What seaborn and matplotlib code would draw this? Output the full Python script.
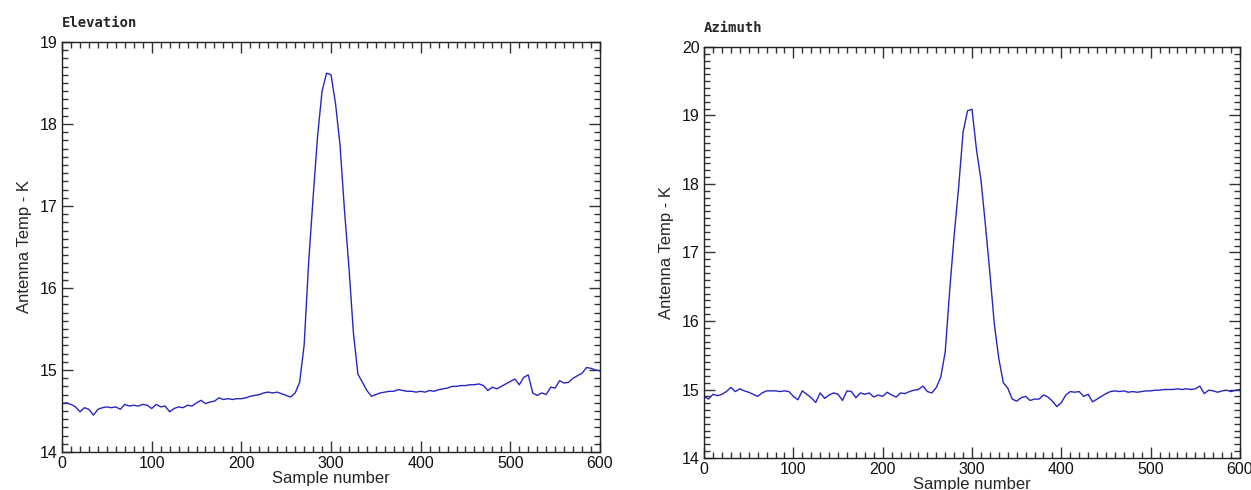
import numpy as np
import pandas as pd
import matplotlib
matplotlib.use("Agg")
import matplotlib.pyplot as plt
from matplotlib.ticker import MultipleLocator
import seaborn as sns

samples = list(range(0, 601, 5))

elevation = [
    14.59, 14.60, 14.58, 14.55, 14.49, 14.54, 14.52, 14.45, 14.52, 14.54,
    14.55, 14.54, 14.55, 14.52, 14.58, 14.56, 14.57, 14.56, 14.58, 14.57,
    14.53, 14.58, 14.55, 14.56, 14.49, 14.53, 14.55, 14.54, 14.57, 14.56,
    14.60, 14.63, 14.59, 14.61, 14.62, 14.66, 14.64, 14.65, 14.64, 14.65,
    14.65, 14.66, 14.68, 14.69, 14.70, 14.72, 14.73, 14.72, 14.73, 14.71,
    14.69, 14.67, 14.72, 14.85, 15.30, 16.30, 17.10, 17.85, 18.40, 18.62,
    18.60, 18.25, 17.75, 16.95, 16.25, 15.45, 14.95, 14.85, 14.75, 14.68,
    14.70, 14.72, 14.73, 14.74, 14.74, 14.76, 14.75, 14.74, 14.74, 14.73,
    14.74, 14.73, 14.75, 14.74, 14.76, 14.77, 14.78, 14.80, 14.80, 14.81,
    14.81, 14.82, 14.82, 14.83, 14.81, 14.75, 14.79, 14.77, 14.80, 14.83,
    14.86, 14.89, 14.82, 14.91, 14.94, 14.72, 14.69, 14.72, 14.70, 14.79,
    14.78, 14.87, 14.84, 14.85, 14.90, 14.93, 14.96, 15.03, 15.02, 15.00,
    14.99,
]

azimuth = [
    14.90, 14.86, 14.93, 14.91, 14.93, 14.97, 15.03, 14.97, 15.01, 14.98,
    14.96, 14.93, 14.90, 14.95, 14.98, 14.98, 14.98, 14.97, 14.98, 14.97,
    14.90, 14.85, 14.98, 14.93, 14.88, 14.81, 14.95, 14.87, 14.92, 14.95,
    14.93, 14.84, 14.98, 14.97, 14.88, 14.95, 14.93, 14.95, 14.89, 14.92,
    14.90, 14.96, 14.92, 14.89, 14.95, 14.94, 14.97, 14.99, 15.00, 15.05,
    14.97, 14.95, 15.03, 15.18, 15.55, 16.45, 17.25, 17.95, 18.76, 19.07,
    19.09, 18.50, 18.06, 17.40, 16.70, 15.95, 15.45, 15.10, 15.02, 14.86,
    14.83, 14.88, 14.90, 14.84, 14.86, 14.86, 14.92, 14.89, 14.83, 14.75,
    14.81, 14.92, 14.97, 14.96, 14.97, 14.90, 14.93, 14.82, 14.86, 14.90,
    14.94, 14.97, 14.98, 14.97, 14.98, 14.96, 14.97, 14.96, 14.97, 14.98,
    14.98, 14.99, 14.99, 15.00, 15.00, 15.00, 15.01, 15.00, 15.01, 15.00,
    15.01, 15.05, 14.94, 14.99, 14.98, 14.96, 14.98, 14.99, 14.97, 14.99,
    15.00,
]

titles = ["Elevation", "Azimuth"]
ylims = [(14, 19), (14, 20)]
x_label = "Sample number"
y_label = "Antenna Temp - K"

sns.set_style("ticks")
plt.rcParams["font.family"] = ["Liberation Sans", "DejaVu Sans"]

fig = plt.figure(figsize=(12.51, 4.90), dpi=100)
ax1 = fig.add_axes([0.0496, 0.0776, 0.4300, 0.8367])
ax2 = fig.add_axes([0.5628, 0.0653, 0.4284, 0.8388])

line_color = "#2626c4"
for ax, series, title, ylim in zip([ax1, ax2], [elevation, azimuth], titles, ylims):
    df = pd.DataFrame({"sample": samples, "temp": series})
    sns.lineplot(data=df, x="sample", y="temp", ax=ax, color=line_color, linewidth=1.0)
    ax.set_xlim(0, 600)
    ax.set_ylim(*ylim)
    ax.xaxis.set_major_locator(MultipleLocator(100))
    ax.xaxis.set_minor_locator(MultipleLocator(10))
    ax.yaxis.set_major_locator(MultipleLocator(1))
    ax.yaxis.set_minor_locator(MultipleLocator(0.1))
    ax.tick_params(which="both", direction="in", top=True, right=True,
                   color="#333333", labelsize=11.5, labelcolor="#111111", pad=3)
    ax.tick_params(which="major", length=8, width=1.0)
    ax.tick_params(which="minor", length=4, width=1.0)
    for sp in ax.spines.values():
        sp.set_linewidth(1.0)
        sp.set_color("#222222")
    ax.set_xlabel(x_label, fontsize=12, labelpad=0)
    ax.set_ylabel(y_label, fontsize=12, labelpad=6)
    ax.set_title(title, loc="left", fontsize=10, fontweight="bold",
                 family="DejaVu Sans Mono", pad=11)

fig.savefig("out.png", dpi=100, facecolor="white")
